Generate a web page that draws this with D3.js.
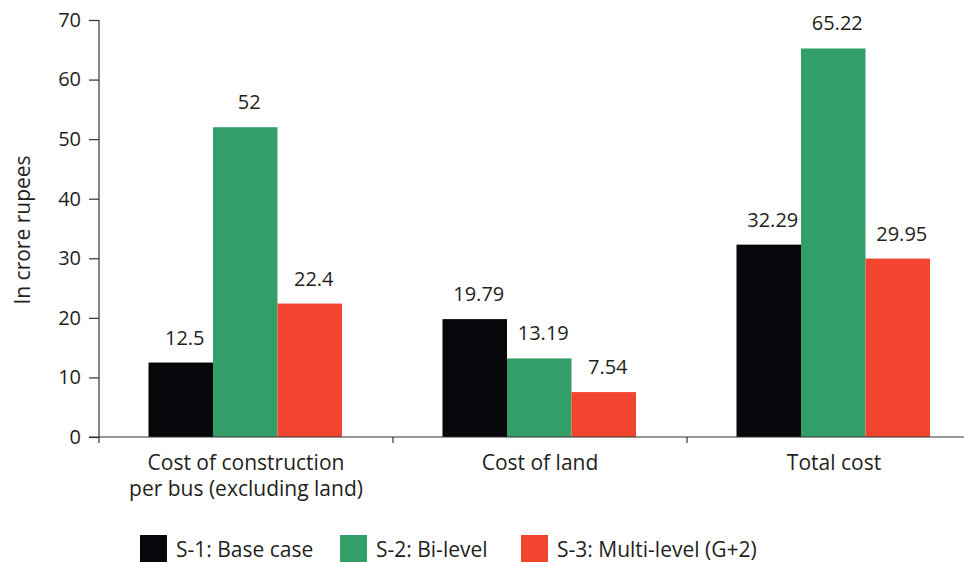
<!DOCTYPE html>
<html>
<head>
<meta charset="utf-8">
<script src="https://cdn.jsdelivr.net/npm/d3@7"></script>
<style>
  html, body { margin: 0; padding: 0; background: #fff; }
  svg { display: block; font-family: "Open Sans", "Noto Sans", sans-serif; }
</style>
</head>
<body>
<svg id="chart" width="964" height="563"></svg>
<script>
// Cost comparison of bus depot scenarios (crore rupees)
const categories = [
  ["Cost of construction", "per bus (excluding land)"],
  ["Cost of land"],
  ["Total cost"]
];
const seriesNames = ["S-1: Base case", "S-2: Bi-level", "S-3: Multi-level (G+2)"];
const seriesColors = ["#07060b", "#349e69", "#f1452f"];
const baseCase = [12.5, 19.79, 32.29];
const biLevel = [52, 13.19, 65.22];
const multiLevel = [22.4, 7.54, 29.95];
const valueLabels = [["12.5", "19.79", "32.29"], ["52", "13.19", "65.22"], ["22.4", "7.54", "29.95"]];
const yTicks = [0, 10, 20, 30, 40, 50, 60, 70];

const series = [baseCase, biLevel, multiLevel];
const textColor = "#231f20";

const svg = d3.select("#chart");
const margin = { left: 99, top: 20, bottom: 437 };

const x0 = d3.scaleBand()
  .domain(d3.range(categories.length))
  .range([margin.left, margin.left + 294 * 3])
  .paddingInner(0).paddingOuter(0);

const x1 = d3.scaleBand()
  .domain(d3.range(series.length))
  .range([49.5, 294 - 51]);

const y = d3.scaleLinear().domain([0, 70]).range([margin.bottom, margin.top]);

// bars
series.forEach((vals, si) => {
  svg.append("g").selectAll("rect")
    .data(vals)
    .join("rect")
    .attr("x", (d, ci) => x0(ci) + x1(si))
    .attr("y", d => y(d))
    .attr("width", x1.bandwidth())
    .attr("height", d => y(0) - y(d))
    .attr("fill", seriesColors[si]);

  svg.append("g").selectAll("text")
    .data(vals)
    .join("text")
    .attr("x", (d, ci) => x0(ci) + x1(si) + x1.bandwidth() / 2 + 4)
    .attr("y", d => y(d) - 18)
    .attr("text-anchor", "middle")
    .attr("font-size", 20)
    .attr("fill", textColor)
    .text((d, ci) => valueLabels[si][ci]);
});

// y axis
const yAxis = svg.append("g")
  .attr("transform", `translate(${margin.left},0)`)
  .call(d3.axisLeft(y).tickValues(yTicks).tickSize(10).tickPadding(8));
yAxis.select(".domain").attr("stroke", "#333").attr("stroke-width", 1.2).attr("d", `M0,${margin.top}V${margin.bottom}`);
yAxis.selectAll(".tick line").attr("stroke", "#333").attr("stroke-width", 1.2);
yAxis.selectAll(".tick text")
  .attr("font-size", 20)
  .attr("font-family", "'Open Sans', sans-serif")
  .attr("fill", textColor);

// x axis line with separators between groups
const xAxis = svg.append("g");
xAxis.append("line")
  .attr("x1", margin.left - 10).attr("x2", 964)
  .attr("y1", y(0)).attr("y2", y(0))
  .attr("stroke", "#333").attr("stroke-width", 1.2);
xAxis.selectAll("line.sep")
  .data(d3.range(categories.length))
  .join("line")
  .attr("class", "sep")
  .attr("x1", d => x0(d)).attr("x2", d => x0(d))
  .attr("y1", y(0)).attr("y2", y(0) + 6)
  .attr("stroke", "#333").attr("stroke-width", 1.2);

// category labels
const catText = svg.append("g").selectAll("text")
  .data(categories)
  .join("text")
  .attr("x", (d, i) => x0(i) + x0.bandwidth() / 2)
  .attr("y", 470)
  .attr("text-anchor", "middle")
  .attr("font-size", 21)
  .attr("fill", textColor);
catText.selectAll("tspan")
  .data(d => d)
  .join("tspan")
  .attr("x", function () { return this.parentNode.getAttribute("x"); })
  .attr("dy", (d, i) => i === 0 ? 0 : 26)
  .text(d => d);

// y axis title
svg.append("text")
  .attr("transform", `translate(30,230) rotate(-90)`)
  .attr("text-anchor", "middle")
  .attr("font-size", 21)
  .attr("fill", textColor)
  .text("In crore rupees");

// legend
const legendX = [140, 340, 521];
const legend = svg.append("g").selectAll("g")
  .data(seriesNames)
  .join("g")
  .attr("transform", (d, i) => `translate(${legendX[i]},535)`);
legend.append("rect")
  .attr("width", 27).attr("height", 27)
  .attr("fill", (d, i) => seriesColors[i]);
legend.append("text")
  .attr("x", 36).attr("y", 21.5)
  .attr("font-size", 21)
  .attr("fill", textColor)
  .text(d => d);
</script>
</body>
</html>
